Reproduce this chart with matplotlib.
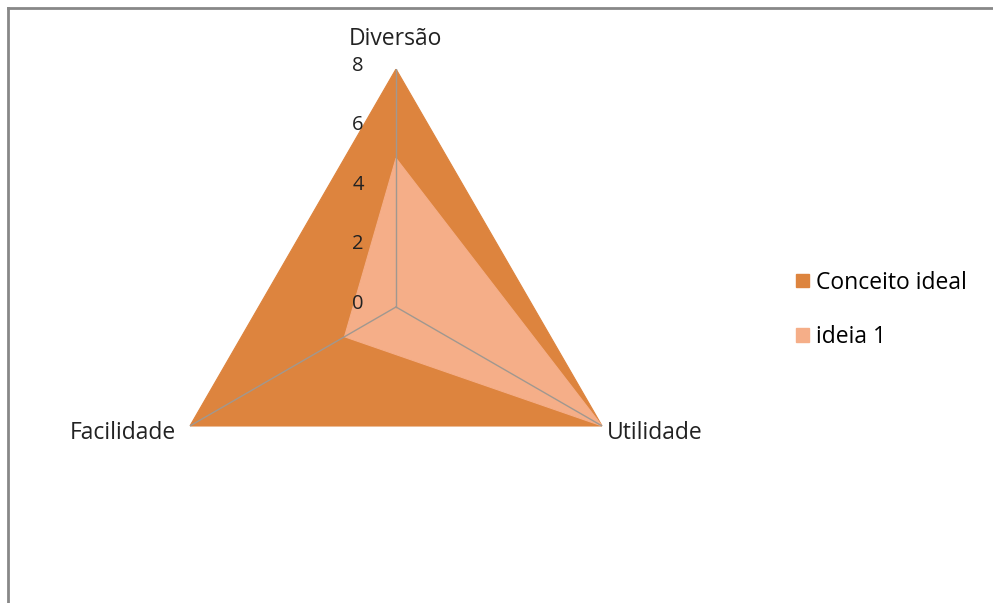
import numpy as np
import matplotlib
matplotlib.use("Agg")
import matplotlib.pyplot as plt
from matplotlib.patches import Patch
from matplotlib.lines import Line2D

plt.rcParams['font.family'] = ['Open Sans', 'DejaVu Sans']

categories = ['Diversão', 'Utilidade', 'Facilidade']
series_names = ['Conceito ideal', 'ideia 1']
conceito_ideal = [8, 8, 8]
ideia_1 = [5, 8, 2]
radial_ticks = [0, 2, 4, 6, 8]
colors = ['#dd843e', '#f5ae88']

FS = 16.5
TXT = '#222222'

fig = plt.figure(figsize=(9.93, 6.03), dpi=100)
ax = fig.add_axes([0.1591, 0.0962, 0.4794, 0.7894], projection='polar')
ax.set_theta_offset(np.pi / 2)
ax.set_theta_direction(-1)
ax.set_ylim(0, 8)
ax.grid(False)
ax.spines['polar'].set_visible(False)
ax.set_xticks([])
ax.set_yticks([])
ax.patch.set_alpha(0)

angles = np.linspace(0, 2 * np.pi, len(categories), endpoint=False)
closed = np.append(angles, angles[0])

for vals, col in zip([conceito_ideal, ideia_1], colors):
    v = np.append(vals, vals[0])
    ax.fill(closed, v, color=col, lw=0.8, edgecolor=col, zorder=2)

# spokes
for a in angles:
    ax.plot([a, a], [0, 8], color='#a09890', lw=1, zorder=3)

# category labels
ax.annotate(categories[0], (angles[0], 8), xytext=(-1, 30), textcoords='offset pixels',
            ha='center', va='center', fontsize=FS, color=TXT)
ax.annotate(categories[1], (angles[1], 8), xytext=(5, -7), textcoords='offset pixels',
            ha='left', va='center', fontsize=FS, color=TXT)
ax.annotate(categories[2], (angles[2], 8), xytext=(-14, -7), textcoords='offset pixels',
            ha='right', va='center', fontsize=FS, color=TXT)

# radial tick labels
for t in radial_ticks:
    ax.annotate(str(t), (0, t), xytext=(-38, 3), textcoords='offset pixels',
                ha='center', va='center', fontsize=14.5, color=TXT)

handles = [Patch(facecolor=c, edgecolor=c) for c in colors]
fig.legend(handles, series_names, loc='center left',
           bbox_to_anchor=(785 / 993, (603 - 310) / 603), frameon=False,
           fontsize=FS, handlelength=0.55, handleheight=0.55, handletextpad=0.3,
           labelspacing=1.35, borderpad=0)

# chart border (left and top)
y_top = 1 - 8 / 603
x_left = 8 / 993
fig.add_artist(Line2D([x_left, x_left], [0, y_top], color='#888888', lw=2))
fig.add_artist(Line2D([x_left, 1], [y_top, y_top], color='#888888', lw=2))

fig.savefig('out.png', dpi=100)
